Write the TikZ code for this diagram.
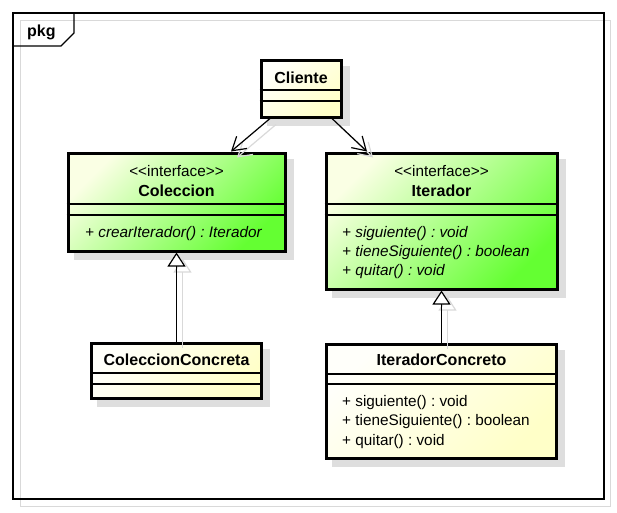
\documentclass[tikz,border=0pt]{standalone}
\usepackage{fontspec}
\setmainfont{Liberation Sans}
\frenchspacing
\usetikzlibrary{arrows.meta}
\usetikzlibrary{shadows}

\definecolor{ifacelight}{RGB}{250,255,228}
\definecolor{ifacegreen}{RGB}{100,255,50}
\definecolor{clslight}{RGB}{255,255,250}
\definecolor{clsyellow}{RGB}{255,255,200}

\tikzset{
  umlbox/.style={draw=black, line width=3pt, inner sep=0pt,
    drop shadow={shadow xshift=7pt, shadow yshift=-7pt, fill=black!13, draw=black!13, opacity=1}},
  iface/.style={umlbox, shading=axis, top color=ifacelight, bottom color=ifacegreen, shading angle=45},
  cls/.style={umlbox, shading=axis, top color=clslight, bottom color=clsyellow, shading angle=45},
  compart/.style={line width=1.2pt},
  txt/.style={inner sep=0pt, font=\fontsize{15.3}{19}\selectfont},
  title/.style={txt, anchor=base, font=\fontsize{16}{19}\selectfont\bfseries},
  stereo/.style={txt, anchor=base},
  oper/.style={txt, anchor=base west},
  dep/.style={line width=1.2pt, -{Straight Barb[length=13pt,width=16pt]}},
  inh/.style={line width=1.2pt, -{Triangle[open,fill=white,length=14pt,width=18pt]}},
  ghost/.style={black!15, transform canvas={shift={(6,6)}}}
}

\begin{document}
\begin{tikzpicture}[x=1pt,y=-1pt]
	\useasboundingbox (0,0) rectangle (617,512);
	% package frame
	\draw[black!15, line width=1pt] (20,20) rectangle (610,506);
	\draw[line width=1.2pt] (13,13) rectangle (604,499);
	\draw[line width=1.2pt] (13,46) -- (61,46) -- (74,33) -- (74,13);
	\node[oper, font=\fontsize{16}{19}\selectfont\bfseries] (pkg) at (27,36) {pkg};

	% classes
	\node[cls, minimum width=80, minimum height=57] (cli) at (301,88.5) {};
	\node[iface, minimum width=217, minimum height=98] (col) at (176.5,202) {};
	\node[iface, minimum width=231, minimum height=136] (ite) at (441.5,221) {};
	\node[cls, minimum width=170, minimum height=55] (colc) at (176.5,370.5) {};
	\node[cls, minimum width=230, minimum height=114] (itec) at (441.5,401) {};

	\draw[compart] (cli.west |- 0,90) -- (cli.east |- 0,90);
	\draw[compart] (cli.west |- 0,101) -- (cli.east |- 0,101);
	\draw[compart] (col.west |- 0,204) -- (col.east |- 0,204);
	\draw[compart] (col.west |- 0,215) -- (col.east |- 0,215);
	\draw[compart] (ite.west |- 0,204) -- (ite.east |- 0,204);
	\draw[compart] (ite.west |- 0,215) -- (ite.east |- 0,215);
	\draw[compart] (colc.west |- 0,373) -- (colc.east |- 0,373);
	\draw[compart] (colc.west |- 0,384) -- (colc.east |- 0,384);
	\draw[compart] (itec.west |- 0,374) -- (itec.east |- 0,374);
	\draw[compart] (itec.west |- 0,384) -- (itec.east |- 0,384);

	\node[title] (cliname) at (301,83) {Cliente};
	\node[stereo] (colst) at (176.5,176) {<{}<interface>{}>};
	\node[title] (colname) at (176.5,196) {Coleccion};
	\node[oper, font=\fontsize{15.3}{19}\selectfont\itshape] (colop) at (85,237) {+ crearIterador() : Iterador};
	\node[stereo] (itest) at (441.5,176) {<{}<interface>{}>};
	\node[title] (itename) at (441.5,196) {Iterador};
	\node[oper, font=\fontsize{15.3}{19}\selectfont\itshape] (iteopa) at (342,237) {+ siguiente() : void};
	\node[oper, font=\fontsize{15.3}{19}\selectfont\itshape] (iteopb) at (342,256) {+ tieneSiguiente() : boolean};
	\node[oper, font=\fontsize{15.3}{19}\selectfont\itshape] (iteopc) at (342,275) {+ quitar() : void};
	\node[title] (colcname) at (176.5,365) {ColeccionConcreta};
	\node[title] (itecname) at (441.5,365) {IteradorConcreto};
	\node[oper] (itecopa) at (342,406) {+ siguiente() : void};
	\node[oper] (itecopb) at (342,425.5) {+ tieneSiguiente() : boolean};
	\node[oper] (itecopc) at (342,445) {+ quitar() : void};

	% connector shadows
	\draw[dep, ghost] ([xshift=10.5]cli.south west) -- ([xshift=164.5]col.north west);
	\draw[dep, ghost] ([xshift=-10.5]cli.south east) -- ([xshift=42.5]ite.north west);
	\draw[inh, ghost] (colc.north) -- (col.south);
	\draw[inh, ghost] (itec.north) -- (ite.south);

	% connectors
	\draw[dep] ([xshift=10.5]cli.south west) -- ([xshift=164.5]col.north west);
	\draw[dep] ([xshift=-10.5]cli.south east) -- ([xshift=42.5]ite.north west);
	\draw[inh] (colc.north) -- (col.south);
	\draw[inh] (itec.north) -- (ite.south);
\end{tikzpicture}
\end{document}
